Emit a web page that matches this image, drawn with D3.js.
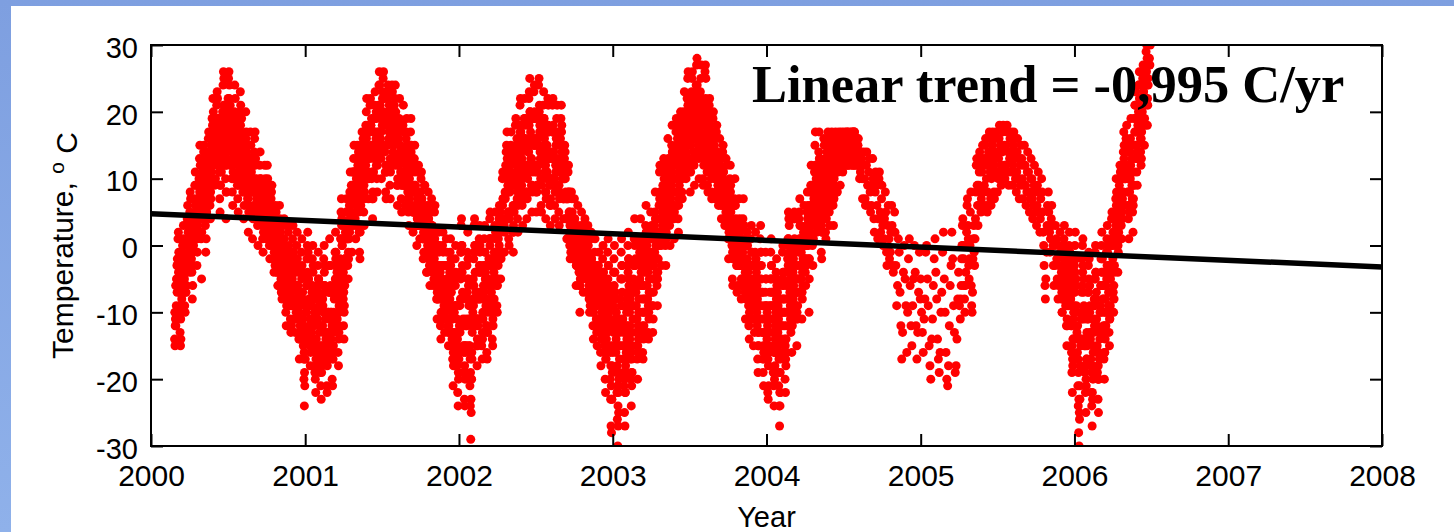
<!DOCTYPE html>
<html>
<head>
<meta charset="utf-8">
<script src="https://cdn.jsdelivr.net/npm/d3@7"></script>
<style>
  html, body { margin: 0; padding: 0; background: #ffffff; }
  svg { display: block; }
</style>
</head>
<body>
<svg id="chart" width="1454" height="532"></svg>
<script>
// Air temperature, °C, read twice a day (00 h and 12 h).
// One inner array per calendar month; the first value belongs to the first
// day of the record in that month. _ = no reading; [] = no 12 h readings.
const _ = null;

// ---- 2000 (record begins 26 February) ----
const obs00_2000 = [
  [-14, -15, -11, -12],
  [-9, -6, -7, -3, 1, 2, -1, -5, -10, -13, -15, -14, -9, -8, -4, 0, 1, 3, -2, -5, -9, -10, -6, -7, -2, 1, 4, 6, 2, -3, 0],
  [2, 5, 8, 7, 3, -2, -4, -8, -6, -1, 0, 4, 7, 9, 11, 6, 5, 1, -3, -1, 3, 2, 6, 10, 13, 15, 12, 8, 1, -5],
  [4, 8, 11, 10, 14, 15, 12, 7, 3, -1, 1, 5, 9, 8, 13, 16, 17, 14, 10, 6, 4, 7, 11, 15, 19, 18, 22, 20, 16, 12, 9],
  [13, 10, 14, 17, 21, 23, 22, 18, 15, 16, 11, 7, 5, 9, 12, 11, 14, 19, 20, 24, 26, 25, 21, 17, 12, 10, 4, 8, 13, 16],
  [19, 22, 25, 26, 24, 20, 21, 16, 12, 14, 10, 8, 6, 11, 13, 18, 20, 24, 22, 19, 15, 17, 13, 9, 7, 5, 10, 12, 16, 19, 23],
  [21, 17, 19, 14, 12, 8, 9, 4, 6, 11, 13, 15, 20, 17, 14, 10, 11, 7, 2, 5, 8, 12, 13, 17, 15, 11, 9, 5, 1, 4, 9],
  [12, 14, 16, 17, 13, 9, 10, 6, 8, 3, 0, 4, 7, 9, 12, 14, 10, 8, 9, 5, 3, 1, -1, 2, 6, 7, 12, 10, 6, 4],
  [6, 9, 12, 10, 7, 5, 2, 0, -2, 1, 3, 7, 8, 9, 5, 4, 1, -2, -4, -2, 0, 4, 6, 5, 1, -1, -4, -6, -3, 1, 3],
  [6, 4, 2, -2, -4, -7, -8, -5, -1, 1, 3, 4, -1, -3, -6, -10, -12, -9, -5, -3, -2, 2, 3, -1, -6, -8, -11, -13, -9, -5],
  [-2, 1, 3, -1, -4, -9, -11, -13, -8, -6, -2, 0, 2, -3, -6, -11, -14, -17, -14, -12, -7, -4, -1, 1, -4, -7, -12, -17, -20, -24, -21]
];
const obs12_2000 = [
  [-10, -12, -6, -10],
  [-5, -3, -2, -5, -3, -4, -4, -7, -6, -9, -11, -9, -6, -3, -1, -4, -2, -2, -5, -3, -4, -7, -2, -4, -6, -3, 0, 1, -2, -1, -4],
  [-1, 1, 3, 4, 0, 2, 0, -3, -1, 3, 4, 1, 3, 5, 6, 9, 2, 5, 1, 4, 7, 6, 9, 6, 8, 10, 8, 4, 5, 2],
  [8, 11, 7, 13, 10, 11, 9, 11, 6, 4, 5, 9, 6, 12, 9, 12, 13, 10, 14, 10, 8, 11, 15, 12, 14, 15, 17, 16, 13, 16, 13],
  [17, 14, 18, 13, 17, 19, 17, 14, 19, 12, 15, 11, 9, 13, 16, 15, 18, 15, 16, 19, 21, 20, 17, 13, 16, 14, 8, 12, 17, 20],
  [15, 18, 20, 22, 19, 16, 17, 12, 16, 18, 14, 12, 10, 15, 17, 14, 16, 19, 17, 15, 19, 13, 17, 13, 11, 9, 14, 16, 20, 15, 18],
  [16, 13, 15, 10, 15, 12, 13, 8, 10, 14, 9, 11, 16, 13, 10, 13, 7, 10, 6, 9, 12, 9, 10, 13, 11, 8, 12, 8, 5, 8, 6],
  [9, 10, 12, 13, 9, 6, 7, 9, 5, 6, 4, 7, 4, 6, 8, 10, 7, 5, 6, 8, 6, 4, 3, 5, 3, 4, 8, 7, 3, 1],
  [3, 5, 8, 7, 4, 2, 5, 3, 2, 4, 0, 4, 5, 6, 2, 1, -2, 1, -1, 1, -3, 1, 3, 2, -2, -4, -1, -3, -6, -2, 0],
  [2, 1, -1, -5, -7, -4, -5, -2, -4, -2, 0, 1, -4, -6, -3, -7, -8, -6, -8, -6, -5, -1, 0, -4, -9, -5, -7, -9, -12, -8],
  [-5, -3, -1, -4, -8, -6, -8, -9, -11, -10, -6, -4, -2, -7, -10, -8, -10, -13, -11, -9, -11, -8, -5, -3, -8, -11, -15, -13, -16, -19, -17]
];

// ---- 2001 ----
const obs00_2001 = [
  [-17, -13, -10, -6, -2, 0, 2, -1, -5, -8, -13, -15, -18, -16, -12, -9, -7, -2, 0, -3, -8, -11, -14, -19, -20, -22, -18, -15, -10, -7, -3],
  [-1, -5, -8, -13, -16, -19, -21, -23, -19, -16, -12, -9, -6, -2, 0, -3, -6, -11, -14, -17, -21, -22, -17, -14, -10, -7, -3, 1],
  [-3, -6, -11, -14, -16, -20, -21, -17, -15, -10, -8, -3, -1, 2, -1, -3, -8, -11, -12, -16, -18, -13, -10, -5, -2, 1, 5, 7, 4, 0, -4],
  [-8, -12, -14, -9, -6, -2, 1, 5, 7, 5, 2, -3, -5, -2, 1, 6, 8, 11, 8, 5, 3, -1, 4, 7, 11, 13, 15, 11, 8, 3],
  [1, 6, 9, 13, 15, 12, 10, 5, 2, -1, -2, 3, 6, 11, 14, 17, 15, 12, 7, 5, 3, 8, 11, 16, 18, 20, 22, 17, 13, 10, 7],
  [10, 14, 17, 21, 22, 18, 15, 10, 7, 4, 7, 11, 13, 19, 21, 23, 19, 16, 12, 10, 8, 13, 16, 21, 24, 26, 24, 21, 16, 13],
  [10, 15, 18, 23, 25, 26, 22, 19, 14, 11, 8, 7, 11, 15, 19, 22, 24, 20, 17, 12, 9, 7, 12, 16, 21, 24, 23, 18, 15, 12, 17],
  [20, 22, 24, 20, 17, 12, 9, 6, 9, 13, 16, 19, 22, 18, 15, 10, 7, 5, 9, 14, 18, 21, 17, 13, 9, 6, 9, 12, 17, 19, 14],
  [11, 7, 5, 3, 7, 11, 15, 17, 19, 15, 12, 9, 5, 2, 5, 8, 13, 15, 12, 9, 5, 3, 0, 4, 7, 11, 12, 7, 3, 1],
  [3, 8, 10, 11, 7, 4, 1, -2, 2, 5, 9, 9, 5, 2, -1, -4, -1, 3, 6, 8, 4, 1, -3, -6, -3, 0, 5, 7, 3, 0, -4],
  [-6, -2, 1, 5, 6, 2, -1, -6, -8, -11, -8, -5, 0, 2, 0, -4, -7, -12, -14, -11, -8, -3, 0, 2, -3, -6, -11, -13, -10, -6],
  [-3, 1, -1, -5, -8, -13, -15, -12, -9, -4, -1, 1, -2, -7, -10, -15, -17, -21, -18, -13, -10, -5, -2, 0, -5, -9, -15, -18, -22, -24, -20]
];
const obs12_2001 = [
  [-13, -9, -14, -10, -6, -4, -2, -5, -9, -12, -9, -11, -14, -12, -8, -13, -11, -6, -4, -7, -12, -7, -10, -15, -16, -17, -14, -11, -6, -11, -7],
  [-5, -9, -12, -9, -12, -15, -17, -18, -15, -12, -8, -13, -10, -6, -4, -7, -10, -15, -10, -13, -16, -18, -13, -10, -14, -11, -7, -3],
  [-7, -10, -7, -10, -12, -15, -17, -13, -11, -6, -12, -7, -5, -2, -5, -7, -4, -7, -8, -12, -14, -9, -6, -9, -6, -3, 1, 3, 0, -4, -8],
  [-4, -7, -10, -5, -2, 2, -3, 1, 3, 1, 5, 1, -1, 2, 5, 2, 4, 7, 4, 9, 7, 3, 8, 11, 7, 9, 11, 7, 4, 7],
  [5, 10, 13, 9, 11, 8, 14, 9, 6, 3, 2, 7, 10, 15, 10, 13, 11, 16, 11, 9, 7, 12, 15, 12, 14, 16, 17, 13, 17, 14, 11],
  [14, 18, 13, 17, 18, 14, 19, 14, 11, 8, 11, 15, 17, 15, 17, 19, 15, 20, 16, 14, 12, 17, 20, 17, 20, 21, 19, 17, 20, 17],
  [14, 19, 22, 19, 20, 22, 18, 15, 18, 15, 12, 11, 15, 19, 23, 18, 20, 16, 21, 16, 13, 11, 16, 20, 17, 20, 19, 14, 19, 16, 21],
  [16, 18, 19, 16, 13, 16, 13, 10, 13, 17, 12, 15, 18, 14, 11, 14, 11, 9, 13, 10, 14, 17, 13, 9, 13, 10, 13, 16, 13, 15, 10],
  [8, 10, 8, 6, 10, 8, 11, 13, 14, 11, 8, 6, 8, 5, 8, 5, 9, 11, 8, 6, 8, 6, 3, 7, 4, 7, 8, 4, 6, 4],
  [6, 5, 6, 7, 4, 1, 4, 1, -1, 2, 6, 5, 2, -1, 2, -1, -4, 0, 3, 4, 1, -2, 0, -3, 0, -3, 2, 3, 0, -3, -1],
  [-3, -5, -2, 1, 2, -1, -4, -3, -5, -7, -5, -8, -3, -1, -3, -7, -4, -8, -10, -7, -5, -6, -3, -1, -6, -9, -7, -9, -7, -9],
  [-7, -3, -5, -9, -12, -9, -11, -8, -13, -8, -5, -3, -6, -11, -14, -11, -13, -16, -14, -9, -14, -9, -6, -4, -9, -13, -11, -14, -17, -19, -16]
];

// ---- 2002 ----
const obs00_2002 = [
  [-17, -12, -9, -4, -1, 3, 4, 0, -3, -8, -11, -16, -19, -23, -24, -19, -16, -11, -8, -3, -1, 2, -2, -5, -11, -15, -21, -24, -29, -25, -20],
  [-17, -12, -10, -5, -2, 3, 4, 0, -4, -7, -12, -15, -18, -15, -12, -7, -4, 1, 3, 0, -3, -8, -11, -15, -17, -14, -11, -6],
  [-3, 1, 3, -1, -4, -9, -12, -16, -17, -13, -10, -5, -2, 1, 4, 5, 1, -2, -7, -10, -14, -15, -12, -9, -4, -1, 3, 5, 2, -1, -6],
  [-9, -10, -5, -3, 2, 4, 6, 2, -1, -5, -2, 3, 6, 10, 11, 7, 4, -1, -1, 4, 7, 12, 14, 15, 17, 12, 9, 4, 1, 0],
  [5, 8, 13, 15, 17, 13, 10, 5, 2, -1, 2, 5, 10, 13, 18, 19, 15, 12, 7, 4, 2, 7, 10, 15, 18, 21, 22, 17, 14, 9, 6],
  [3, 8, 11, 16, 19, 22, 19, 16, 11, 8, 4, 7, 10, 15, 18, 22, 23, 25, 20, 17, 12, 9, 5, 8, 11, 16, 19, 23, 24, 19],
  [16, 11, 8, 5, 8, 11, 16, 19, 24, 25, 21, 18, 13, 10, 6, 5, 10, 13, 18, 21, 23, 19, 16, 11, 8, 4, 7, 10, 15, 18, 22],
  [21, 17, 14, 9, 6, 3, 6, 9, 14, 17, 21, 22, 17, 14, 9, 6, 4, 8, 11, 16, 19, 21, 16, 13, 8, 5, 3, 8, 11, 16, 19],
  [21, 18, 15, 10, 7, 4, 7, 10, 15, 14, 12, 7, 4, 1, 4, 7, 11, 12, 8, 5, 0, -2, 2, 4, 8, 7, 5, 1, -2, 2],
  [4, 7, 4, 2, -2, -6, -3, 1, 3, 6, 2, 0, -4, -6, -10, -5, -2, 3, 5, 2, -1, -5, -7, -4, -2, 2, 4, 1, -3, -5, -7],
  [-4, 1, 3, 0, -3, -8, -10, -6, -3, 1, 2, -2, -5, -10, -12, -14, -9, -6, -1, 1, -3, -6, -11, -13, -15, -11, -8, -3, -1, -5],
  [-8, -13, -16, -18, -13, -10, -5, -2, 0, -4, -7, -12, -15, -20, -22, -17, -14, -9, -6, -1, 1, -3, -6, -12, -15, -20, -23, -27, -28, -23, -19]
];
const obs12_2002 = [
  [-13, -16, -13, -8, -5, -1, 0, -4, -7, -12, -15, -12, -15, -18, -20, -15, -12, -15, -12, -7, -5, -2, -6, -9, -15, -11, -17, -19, -23, -20, -16],
  [-13, -8, -6, -9, -6, -1, 0, -4, -8, -11, -8, -11, -14, -11, -8, -11, -8, -3, -1, -4, -7, -4, -7, -11, -13, -10, -7, -10],
  [-7, -3, -1, -5, -8, -5, -8, -12, -13, -9, -6, -9, -6, -3, 0, 1, -3, -6, -3, -6, -10, -11, -8, -5, -8, -5, -1, 1, -2, -5, -2],
  [-5, -6, -1, 1, -2, 0, 2, 5, 3, -1, 2, 6, 3, 6, 7, 4, 7, 3, 2, 8, 11, 8, 10, 11, 13, 8, 5, 8, 5, 4],
  [9, 12, 9, 11, 13, 9, 14, 9, 6, 3, 6, 9, 14, 9, 14, 15, 11, 16, 11, 8, 6, 11, 14, 11, 14, 17, 18, 13, 10, 13, 10],
  [7, 12, 15, 12, 15, 18, 15, 12, 15, 12, 8, 11, 14, 11, 14, 18, 19, 20, 16, 13, 16, 13, 9, 12, 15, 12, 15, 19, 20, 15],
  [12, 15, 12, 9, 12, 15, 12, 15, 20, 20, 17, 14, 17, 14, 10, 9, 14, 17, 14, 17, 19, 15, 12, 15, 12, 8, 11, 14, 11, 14, 18],
  [17, 13, 10, 13, 10, 7, 10, 13, 10, 13, 17, 18, 13, 10, 13, 10, 8, 12, 15, 12, 15, 17, 12, 9, 12, 9, 7, 12, 15, 12, 15],
  [17, 14, 11, 13, 10, 7, 10, 13, 11, 10, 8, 4, 7, 4, 1, 4, 7, 8, 5, 2, 3, 1, -1, 1, 4, 3, 2, -2, 1, -1],
  [1, 3, 1, -1, 1, -3, 0, -2, 0, 2, -1, -3, -1, -3, -6, -2, 1, 0, 1, -1, -4, -2, -4, -1, 1, -1, 1, -2, 0, -2, -4],
  [-7, -3, -1, -4, -6, -5, -6, -9, -6, -3, -2, -5, -8, -7, -8, -10, -12, -9, -4, -3, -6, -9, -7, -9, -11, -7, -5, -6, -4, -8],
  [-12, -9, -12, -14, -9, -14, -9, -6, -4, -8, -11, -8, -11, -16, -17, -13, -10, -13, -10, -5, -3, -7, -10, -8, -11, -16, -18, -21, -23, -18, -15]
];

// ---- 2003 ----
const obs00_2003 = [
  [-12, -9, -4, -2, 0, -4, -7, -12, -14, -19, -22, -26, -30, -27, -25, -19, -17, -11, -8, -5, -1, 1, -3, -5, -11, -13, -19, -21, -25, -27, -22],
  [-19, -16, -10, -8, -3, 0, 2, -2, -5, -10, -12, -17, -20, -24, -21, -19, -13, -11, -5, -3, 1, 4, 1, -2, -7, -9, -15, -17],
  [-20, -16, -14, -8, -6, -1, 1, 4, 0, -2, -8, -10, -16, -17, -14, -12, -6, -4, 1, 3, 6, 2, 0, -6, -8, -13, -14, -11, -5, -3, 2],
  [5, 1, -1, -7, -9, -13, -11, -5, -3, 3, 5, 8, 4, 2, -4, -6, -9, -4, -2, 4, 6, 11, 12, 8, 6, 0, -3, 1, 3, 9],
  [12, 13, 10, 8, 3, 0, -3, 2, 4, 10, 12, 16, 13, 11, 5, 3, 0, 5, 7, 13, 15, 18, 14, 12, 6, 4, 1, 6, 8, 14, 17],
  [19, 14, 12, 6, 4, 2, 7, 9, 15, 17, 20, 16, 14, 8, 7, 10, 12, 18, 20, 23, 19, 17, 11, 10, 12, 18, 20, 25, 26, 21],
  [18, 13, 11, 8, 11, 17, 19, 25, 26, 22, 20, 14, 12, 9, 14, 16, 22, 24, 27, 28, 23, 21, 15, 13, 10, 15, 17, 23, 25, 27, 22],
  [19, 16, 10, 9, 12, 18, 20, 26, 27, 25, 19, 17, 11, 9, 8, 13, 15, 21, 22, 20, 16, 14, 8, 7, 11, 13, 19, 20, 16, 12, 10],
  [7, 11, 13, 17, 18, 14, 12, 7, 6, 10, 12, 16, 13, 11, 6, 4, 7, 9, 14, 15, 11, 9, 4, 3, 7, 8, 13, 12, 9, 5],
  [3, 1, -2, 2, 4, 10, 12, 9, 7, 1, 0, -5, -6, -2, 0, 6, 7, 10, 6, 4, -1, -3, -7, -6, -3, 1, 3, 7, 4, 2, -3],
  [-6, -8, -5, -3, 3, 4, 7, 3, 1, -5, -7, -11, -8, -6, 0, 2, 0, -4, -6, -12, -14, -11, -9, -3, 1, 3, -1, -3, -9, -11],
  [-15, -11, -9, -3, -1, 2, -2, -4, -10, -12, -17, -19, -15, -13, -7, -5, 1, 3, -1, -3, -9, -11, -17, -19, -21, -17, -15, -9, -7, -1, -5]
];
const obs12_2003 = [
  [-16, -13, -8, -6, -4, -8, -11, -16, -10, -15, -18, -21, -24, -22, -20, -15, -13, -15, -12, -9, -5, -3, -7, -9, -15, -17, -15, -17, -20, -22, -18],
  [-15, -12, -14, -12, -7, -4, -2, -6, -9, -14, -8, -13, -16, -19, -17, -15, -9, -7, -9, -7, -3, 0, -3, -6, -11, -13, -11, -13],
  [-15, -12, -10, -12, -10, -5, -3, 0, -4, -6, -4, -6, -12, -13, -10, -8, -10, -8, -3, -1, 2, -2, -4, -2, -4, -9, -10, -7, -9, -7, -2],
  [1, -3, 3, -3, -5, -9, -7, -1, 1, -1, 1, 4, 0, -2, 0, -2, -5, 0, 2, 0, 2, 7, 8, 4, 2, 4, 1, 5, 7, 5],
  [8, 9, 6, 11, 7, 4, 1, 6, 8, 6, 8, 12, 9, 7, 9, 7, 4, 9, 11, 9, 11, 14, 10, 8, 10, 8, 5, 10, 12, 10, 13],
  [15, 18, 16, 10, 8, 6, 11, 13, 19, 13, 16, 12, 18, 12, 11, 14, 16, 14, 16, 19, 15, 13, 15, 14, 16, 22, 16, 21, 21, 17],
  [22, 17, 15, 12, 15, 21, 23, 21, 22, 18, 16, 18, 16, 13, 18, 20, 18, 20, 23, 24, 19, 17, 19, 17, 14, 19, 21, 19, 21, 22, 18],
  [15, 20, 14, 13, 16, 14, 16, 21, 22, 20, 15, 13, 15, 13, 12, 17, 19, 17, 18, 16, 12, 10, 12, 11, 15, 17, 15, 16, 12, 15, 13],
  [10, 8, 10, 13, 14, 10, 9, 10, 9, 7, 9, 12, 10, 8, 9, 7, 10, 6, 10, 11, 8, 6, 7, 6, 4, 5, 9, 8, 6, 8],
  [6, 4, 1, 5, 7, 6, 8, 5, 3, 4, 3, -1, -2, 1, 3, 2, 3, 6, 2, 0, 2, 0, -3, -2, 0, -2, 0, 3, 0, -1, 0],
  [-3, -5, -2, -6, -1, 0, 3, 0, -3, -2, -4, -7, -5, -3, -4, -2, -3, -7, -9, -8, -10, -7, -6, -6, -3, -1, -5, -6, -6, -8],
  [-11, -7, -13, -7, -5, -2, -6, -8, -6, -8, -13, -15, -11, -9, -11, -9, -3, -1, -5, -7, -13, -7, -13, -15, -16, -13, -11, -13, -11, -5, -9]
];

// ---- 2004 (12 h readings stop in early August) ----
const obs00_2004 = [
  [-9, -14, -16, -22, -23, -21, -15, -13, -7, -5, -1, 1, -3, -5, -11, -13, -19, -21, -24, -20, -18, -12, -10, -4, -2, -5, -7, -13, -15, -21, -24],
  [-27, -24, -22, -16, -14, -8, -6, -1, 0, -4, -6, -12, -14, -20, -22, -18, -16, -10, -8, -2, 1, 5, 4, 3, -3, -5, -11, -13],
  [-16, -12, -10, -4, -2, 4, 5, 4, -1, -3, -9, -11, -15, -11, -9, -3, -1, 4, 5, 7, 3, 1, -5, -7, -11, -8, -6, 0, 2, 6, 1],
  [-2, -4, -6, -3, 3, 5, 8, 6, 0, -2, -10, -2, 2, 8, 9, 12, 8, 6, 0, -3, 1, 3, 9, 11, 15, 17, 12, 10, 4, 2],
  [3, 6, 12, 14, 17, 13, 11, 5, 3, -1, -2, 2, 4, 10, 12, 16, 15, 9, 7, 2, 1, 4, 10, 12, 16, 17, 13, 11, 5, 3, 6],
  [11, 15, 16, 17, 14, 8, 6, 3, 7, 9, 15, 16, 17, 14, 13, 8, 8, 11, 12, 16, 17, 14, 13, 9, 14, 15, 17, 14, 14, 11],
  [14, 16, 17, 16, 13, 12, 14, 15, 17, 15, 14, 12, 13, 16, 17, 16, 13, 12, 15, 16, 17, 15, 14, 12, 14, 15, 17, 17, 14, 12, 15],
  [16, 14, 12, 13, 15, 16, 14, 12, 10, _, 11, 14, _, 13, 10, 7, _, 12, 14, _, 10, 7, 6, _, 12, 14, _, 9, 6, _, 11],
  [13, _, 8, 5, _, 6, 9, _, 13, 10, _, 4, 2, _, 8, 11, _, 9, 6, _, 1, 4, _, 10, 11, _, 5, 2, _, 7],
  [9, _, 3, 0, _, 1, 4, _, 8, 5, _, -1, -3, _, 3, 6, _, 1, -2, _, -1, 2, _, 6, 3, _, -3, -4, _, 2, 5],
  [2, _, -3, _, -9, _, -6, _, 1, _, -1, _, -7, _, -12, _, -17, _, -13, _, -4, _, 0, _, -5, _, -9, _, -16, _],
  [-10, _, -2, _, 1, _, -6, _, -12, _, -15, _, -9, _, -5, _, 0, _, -4, _, -12, _, -17, _, -13, _, -7, _, -1, _, -8]
];
const obs12_2004 = [
  [-13, -10, -12, -17, -18, -16, -11, -9, -11, -9, -5, -3, -7, -9, -7, -9, -15, -16, -19, -16, -14, -16, -14, -8, -6, -9, -11, -9, -11, -17, -19],
  [-22, -19, -17, -12, -10, -12, -10, -5, -4, -8, -10, -8, -10, -15, -17, -14, -12, -6, -4, -6, -3, 1, 0, -1, -7, -9, -7, -9],
  [-12, -8, -6, -8, -6, 0, 1, 0, -5, -7, -5, -7, -10, -7, -5, -7, -5, 0, 1, 3, -1, -3, -1, -3, -7, -4, -2, -4, -2, 2, -3],
  [2, 0, -2, 1, 0, 2, 4, 3, 4, 2, -5, 2, 6, 5, 6, 8, 5, 9, 4, 1, 5, 7, 6, 7, 11, 12, 8, 6, 8, 6],
  [7, 10, 8, 10, 13, 9, 7, 9, 7, 3, 2, 6, 8, 6, 8, 12, 11, 13, 11, 6, 5, 8, 14, 9, 12, 13, 9, 7, 9, 7, 10],
  [14, 12, 13, 14, 11, 11, 10, 7, 10, 12, 12, 13, 14, 11, 16, 11, 12, 14, 15, 13, 14, 16, 15, 12, 16, 13, 15, 12, 16, 13],
  [16, 14, 15, 13, 15, 14, 16, 13, 15, 17, 12, 14, 15, 14, 15, 13, 15, 14, 13, 14, 15, 17, 16, 14, 12, 17, 15, 14, 16, 14, 13],
  [14, 16, 14, 15, 13, 14, 12, 14, 13],
  [], [], [], []
];

// ---- 2005 (sparse winter record; 12 h readings resume in December) ----
const obs00_2005 = [
  [-5, _, -10, _, -13, _, -16, _, -11, _, -8, _, -1, _, 0, _, -5, _, -9, _, -15, _, -18, _, -20, _, -14, _, -11, _, -6],
  [_, -2, _, 1, _, -4, _, -8, _, -14, _, -17, _, -19, _, -16, _, -10, _, -7, _, -1, _, 2, _, -5, _, -10],
  [_, -16, _, -20, _, -21, _, -18, _, -12, _, -6, _, -3, _, 2, _, -2, _, -9, _, -13, _, -19, _, -18, _, -14, _, -8, _],
  [-4, _, -9, _, -11, -8, -6, -2, 0, 3, 4, 0, -2, -6, -8, -10, -6, -4, 0, 2, 6, 7, 3, 1, -3, -5, -2, 0, 5, 8],
  [-6, -9, -10, -7, -2, 1, 3, -1, -3, 1, 4, 8, 12, 13, 9, 6, 3, 6, 9, 11, 14, 12, 8, 5, 7, 11, 13, 15, 12, 8, 6],
  [9, 13, 15, 16, 12, 10, 6, 5, 8, 12, 14, 16, 17, 13, 11, 7, 6, 10, 12, 15, 17, 14, 12, 8, 7, 11, 13, 16, 17, 14],
  [11, 8, _, 10, 13, 16, 18, _, 15, 12, 9, _, 11, 14, 17, 18, _, 15, 12, 10, _, 12, 15, 17, 18, _, 14, 11, 9, _, 13],
  [16, _, 17, 14, 11, _, 9, 12, 15, 17, _, 16, 13, 10, _, 8, 11, 14, 16, _, 13, 10, 7, _, 9, 12, 15, _, 13, 10, 7],
  [_, 9, 12, 15, _, 12, 9, 6, _, 8, 11, 14, _, 11, 8, 5, _, 7, 10, 13, _, 10, 7, 4, _, 6, 9, 12, _, 8],
  [5, _, 3, 6, 9, _, 11, 8, 5, _, 2, 4, 7, _, 10, 8, 5, _, 2, 0, -3, _, -6, -8, -5, _, -1, 3, 6, _, 8],
  [5, _, 2, -1, 1, _, 4, 6, 3, _, 0, -3, -6, _, -3, 0, 3, _, 1, -2, -5, _, -8, -6, -3, _, 0, 2, -1, _],
  [-4, -7, -10, -8, -5, -2, 1, 3, 0, -3, -6, -9, -12, -15, -12, -9, -6, -3, 0, 2, -1, -4, -8, -12, -16, -19, -22, -18, -14, -10, -6]
];
const obs12_2005 = [
  [], [], [], [], [], [], [], [], [], [], [],
  [-8, -10, -6, -5, -8, -6, -3, -1, -4, -7, -9, -5, -8, -11, -8, -6, -9, -7, -4, -2, -5, -8, -5, -9, -12, -15, -17, -14, -11, -7, -9]
];

// ---- 2006 (record ends 30 June) ----
const obs00_2006 = [
  [-3, 0, 2, -2, -5, -10, -13, -16, -21, -24, -28, -30, -26, -23, -18, -15, -10, -7, -2, 0, 1, -3, -5, -11, -14, -19, -22, -25, -21, -17, -15],
  [-10, -7, -3, -1, -2, -6, -9, -14, -17, -22, -24, -27, -23, -20, -15, -13, -8, -5, -1, 0, -4, -7, -12, -15, -20, -23, -25, -20],
  [-17, -14, -9, -6, -2, 0, 2, -2, -4, -10, -12, -17, -20, -16, -14, -8, -6, -1, 1, 3, 0, -5, -7, -13, -15, -11, -9, -3, 0, 4, 5],
  [1, -2, -7, -10, -8, -3, 0, 5, 7, 10, 8, 3, 0, -4, -1, 2, 5, 10, 12, 11, 8, 3, 1, 4, 7, 12, 14, 17, 15, 10],
  [6, 10, 12, 16, 18, 14, 12, 6, 4, 1, 6, 8, 14, 16, 19, 15, 13, 7, 5, 2, 7, 9, 15, 17, 21, 23, 19, 17, 11, 9, 14],
  [17, 20, 24, 26, 22, 20, 14, 12, 13, 18, 20, 25, 27, 23, 21, 15, 18, 21, 26, 29, 26, 24, 18, 21, 24, 28, 31, 28, 27, 30]
];
const obs12_2006 = [
  [-7, -4, -2, -6, -9, -14, -17, -12, -17, -19, -23, -25, -21, -18, -14, -11, -14, -11, -6, -4, -3, -7, -9, -15, -18, -15, -18, -20, -17, -13, -11],
  [-14, -11, -7, -5, -6, -10, -13, -18, -13, -18, -19, -22, -18, -16, -11, -9, -12, -9, -5, -4, -8, -11, -16, -19, -16, -18, -20, -16],
  [-13, -10, -13, -10, -6, -4, -2, -6, -8, -6, -8, -13, -16, -12, -10, -12, -10, -5, -3, -1, -4, -9, -3, -9, -11, -7, -5, -7, -4, 0, 1],
  [-3, 2, -3, -6, -4, 1, 4, 1, 3, 6, 4, 7, 4, 0, 3, 6, 9, 6, 8, 7, 4, 7, 5, 8, 11, 8, 10, 13, 11, 14],
  [10, 14, 16, 12, 14, 10, 8, 10, 8, 5, 10, 12, 10, 12, 15, 11, 9, 11, 9, 6, 11, 13, 19, 21, 17, 19, 15, 13, 15, 13, 18],
  [21, 24, 20, 22, 18, 16, 18, 16, 17, 22, 24, 21, 23, 19, 25, 19, 22, 25, 22, 25, 30, 28, 22, 25, 28, 32, 27, 32, 31, 33]
];

const recordYears = [
  { year: 2000, firstMonth: 1, firstDay: 26, at00: obs00_2000, at12: obs12_2000 },
  { year: 2001, firstMonth: 0, firstDay: 1, at00: obs00_2001, at12: obs12_2001 },
  { year: 2002, firstMonth: 0, firstDay: 1, at00: obs00_2002, at12: obs12_2002 },
  { year: 2003, firstMonth: 0, firstDay: 1, at00: obs00_2003, at12: obs12_2003 },
  { year: 2004, firstMonth: 0, firstDay: 1, at00: obs00_2004, at12: obs12_2004 },
  { year: 2005, firstMonth: 0, firstDay: 1, at00: obs00_2005, at12: obs12_2005 },
  { year: 2006, firstMonth: 0, firstDay: 1, at00: obs00_2006, at12: obs12_2006 }
];

const yearTicks = [2000, 2001, 2002, 2003, 2004, 2005, 2006, 2007, 2008];
const tempTicks = [30, 20, 10, 0, -10, -20, -30];

// Least-squares trend of the record
const trendSlope = -0.995;      // °C per year
const trendAt2000 = 4.75;       // °C on 1 Jan 2000

// ---------------------------------------------------------------
const W = 1454, H = 532;
const plot = { left: 151, right: 1382, top: 45, bottom: 446 };

const svg = d3.select("#chart");

// Slide-style blue backdrop with the white chart panel on top
const defs = svg.append("defs");
const bg = defs.append("linearGradient").attr("id", "bgGrad")
  .attr("x1", 0).attr("y1", 0).attr("x2", 0).attr("y2", 1);
bg.append("stop").attr("offset", "0%").attr("stop-color", "#7e9fe0");
bg.append("stop").attr("offset", "100%").attr("stop-color", "#8fb1ea");
svg.append("rect").attr("width", W).attr("height", H).attr("fill", "url(#bgGrad)");
svg.append("rect").attr("x", 11).attr("y", 6).attr("width", W - 11).attr("height", H - 6).attr("fill", "#ffffff");

defs.append("clipPath").attr("id", "plotClip")
  .append("rect")
  .attr("x", plot.left).attr("y", plot.top)
  .attr("width", plot.right - plot.left).attr("height", plot.bottom - plot.top);

const x = d3.scaleTime()
  .domain([new Date(2000, 0, 1), new Date(2008, 0, 1)])
  .range([plot.left, plot.right]);
const y = d3.scaleLinear().domain([-30, 30]).range([plot.bottom, plot.top]);

// Flatten the monthly tables into dated readings
const readings = [];
recordYears.forEach(r => {
  [[r.at00, 0], [r.at12, 12]].forEach(([table, hour]) => {
    table.forEach((vals, mi) => {
      const month = r.firstMonth + mi;
      const d0 = mi === 0 ? r.firstDay : 1;
      vals.forEach((v, di) => {
        if (v !== null) readings.push({ date: new Date(r.year, month, d0 + di, hour), temp: v });
      });
    });
  });
});
readings.sort((a, b) => a.date - b.date);

// Readings
svg.append("g").attr("clip-path", "url(#plotClip)")
  .selectAll("circle").data(readings).join("circle")
  .attr("cx", d => x(d.date))
  .attr("cy", d => y(d.temp))
  .attr("r", 4.5)
  .attr("fill", "#ff0000");

// Linear trend
const trendAt = yr => trendAt2000 + trendSlope * (yr - 2000);
const trendEnds = [2000, 2008].map(yr => ({ date: new Date(yr, 0, 1), temp: trendAt(yr) }));
svg.append("path")
  .datum(trendEnds)
  .attr("d", d3.line().x(d => x(d.date)).y(d => y(d.temp)))
  .attr("fill", "none")
  .attr("stroke", "#000")
  .attr("stroke-width", 5.5);

// Axes: inward ticks on all four sides
const tickFont = "'Liberation Sans', Arial, sans-serif";
const yearDates = yearTicks.map(yr => new Date(yr, 0, 1));
const plainNumber = v => String(v);   // hyphen-minus, as typed on the slide

const xAxis = svg.append("g")
  .attr("transform", `translate(0,${plot.bottom})`)
  .call(d3.axisBottom(x).tickValues(yearDates).tickFormat(d3.timeFormat("%Y"))
    .tickSizeInner(-12).tickSizeOuter(0).tickPadding(19));
const xAxisTop = svg.append("g")
  .attr("transform", `translate(0,${plot.top})`)
  .call(d3.axisTop(x).tickValues(yearDates).tickFormat("").tickSizeInner(-12).tickSizeOuter(0));
const yAxis = svg.append("g")
  .attr("transform", `translate(${plot.left},0)`)
  .call(d3.axisLeft(y).tickValues(tempTicks).tickFormat(plainNumber)
    .tickSizeInner(-12).tickSizeOuter(0).tickPadding(13));
const yAxisRight = svg.append("g")
  .attr("transform", `translate(${plot.right},0)`)
  .call(d3.axisRight(y).tickValues(tempTicks).tickFormat("").tickSizeInner(-12).tickSizeOuter(0));

[xAxis, xAxisTop, yAxis, yAxisRight].forEach(g => {
  g.select(".domain").remove();
  g.selectAll(".tick line").attr("stroke", "#000").attr("stroke-width", 2);
  g.selectAll(".tick text").attr("fill", "#000").style("font-family", tickFont);
});
xAxis.selectAll(".tick text").style("font-size", "30px").attr("dy", "0.71em");
yAxis.selectAll(".tick text").style("font-size", "29px").attr("dy", "0.42em");

// Plot frame
svg.append("rect")
  .attr("x", plot.left).attr("y", plot.top)
  .attr("width", plot.right - plot.left).attr("height", plot.bottom - plot.top)
  .attr("fill", "none").attr("stroke", "#000").attr("stroke-width", 2);

// Axis titles
svg.append("text")
  .attr("x", (plot.left + plot.right) / 2).attr("y", 527)
  .attr("text-anchor", "middle")
  .style("font-family", tickFont).style("font-size", "29px")
  .text("Year");

const yTitle = svg.append("text")
  .attr("transform", `translate(73,${(plot.top + plot.bottom) / 2}) rotate(-90)`)
  .attr("text-anchor", "middle")
  .style("font-family", tickFont).style("font-size", "30px");
yTitle.append("tspan").text("Temperature, ");
yTitle.append("tspan").attr("dy", "-0.45em").style("font-size", "21px").text("o");
yTitle.append("tspan").attr("dy", "0.45em").text(" C");

// Trend annotation
const fmtComma = v => v.toFixed(3).replace(".", ",");
svg.append("text")
  .attr("x", 752).attr("y", 102)
  .style("font-family", "'Liberation Serif', 'Times New Roman', serif")
  .style("font-weight", "bold").style("font-size", "52.5px")
  .attr("fill", "#000")
  .text(`Linear trend = ${fmtComma(trendSlope)} C/yr`);
</script>
</body>
</html>
